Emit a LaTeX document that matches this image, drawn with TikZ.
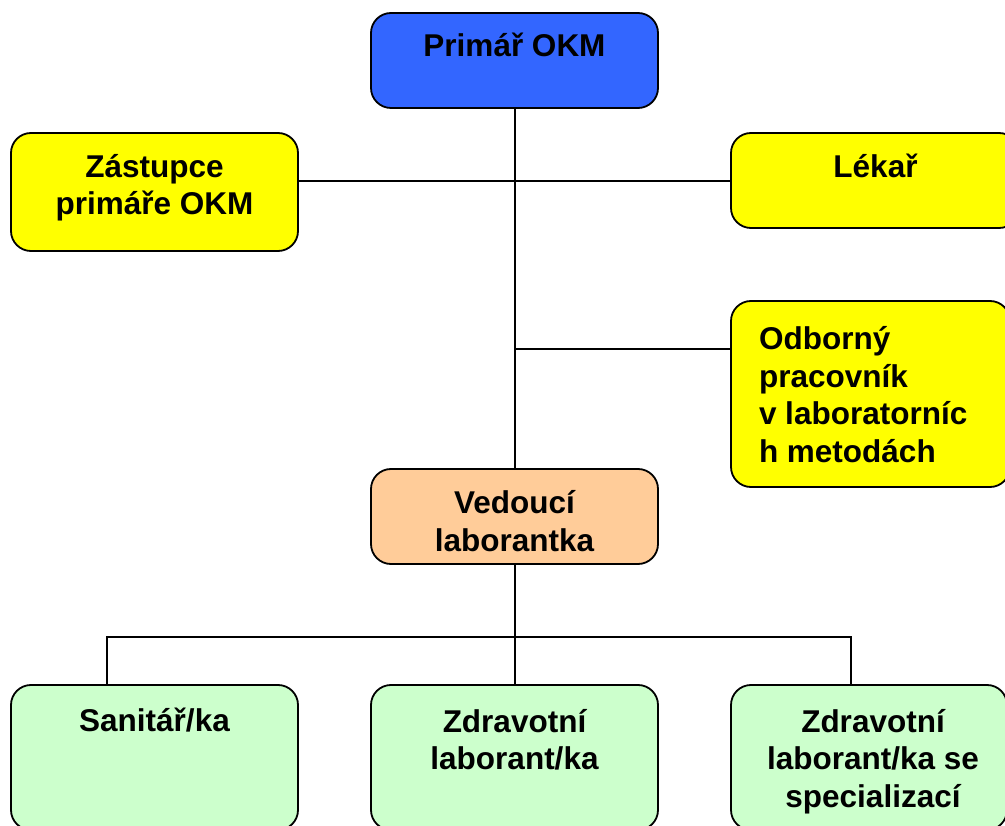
\documentclass[tikz,border=0pt]{standalone}
\usepackage{fontspec}
\setmainfont{Liberation Sans}
\definecolor{cblue}{HTML}{3366FF}
\definecolor{cyellow}{HTML}{FFFF00}
\definecolor{corange}{HTML}{FFCC99}
\definecolor{cgreen}{HTML}{CCFFCC}
\tikzset{
  box/.style={draw=black, line width=1.8pt, rounded corners=20pt, inner sep=0pt, outer sep=0pt},
  txt/.style={inner sep=0pt, outer sep=0pt, anchor=base, font=\bfseries\fontsize{31.5}{37.5}\selectfont},
  conn/.style={draw=black, line width=2pt}
}
\begin{document}
\begin{tikzpicture}[x=1pt,y=-1pt]
\useasboundingbox (0,0) rectangle (1005,826);
\clip (0,0) rectangle (1005,826);
% boxes
\node[box, fill=cblue, minimum width=287pt, minimum height=95pt] (p) at (514.5,60.5) {};
\node[box, fill=cyellow, minimum width=287pt, minimum height=118pt] (z) at (154.5,192) {};
\node[box, fill=cyellow, minimum width=288pt, minimum height=95pt] (l) at (875,180.5) {};
\node[box, fill=cyellow, minimum width=279pt, minimum height=186pt] (o) at (870.5,394) {};
\node[box, fill=corange, minimum width=287pt, minimum height=95pt] (v) at (514.5,516.5) {};
\node[box, fill=cgreen, minimum width=287pt, minimum height=145pt] (s) at (154.5,757.5) {};
\node[box, fill=cgreen, minimum width=287pt, minimum height=145pt] (zl) at (514.5,757.5) {};
\node[box, fill=cgreen, minimum width=276pt, minimum height=145pt] (r) at (869,757.5) {};
% texts (base anchor = baseline of last line)
\node[txt] (tp) at (514.5,57) {Primář OKM};
\node[txt, align=center] (tz) at (154.5,215) {Zástupce\\primáře OKM};
\node[txt] (tl) at (875.5,178) {Lékař};
\node[txt, align=left, anchor=base west] (to) at (759,462.5) {Odborný\\pracovník\\v laboratorníc\\h metodách};
\node[txt, align=center] (tv) at (514.5,551) {Vedoucí\\laborantka};
\node[txt] (ts) at (154.5,731) {Sanitář/ka};
\node[txt, align=center] (tzl) at (514.5,769.5) {Zdravotní\\laborant/ka};
\node[txt, align=center] (tr) at (873,807) {Zdravotní\\laborant/ka se\\specializací};
% connectors
\coordinate (j1) at (514.5,181);
\coordinate (j2) at (514.5,349);
\coordinate (j3) at (514.5,637);
\coordinate (bl) at (106.7,637);
\coordinate (br) at (851,637);
\draw[conn] (p.south) -- (v.north);
\draw[conn] (z.east|-j1) -- (l.west|-j1);
\draw[conn] (j2) -- (o.west|-j2);
\draw[conn] (v.south) -- (zl.north);
\draw[conn] (s.north-|bl) -- (bl) -- (br) -- (r.north-|br);
\end{tikzpicture}
\end{document}
